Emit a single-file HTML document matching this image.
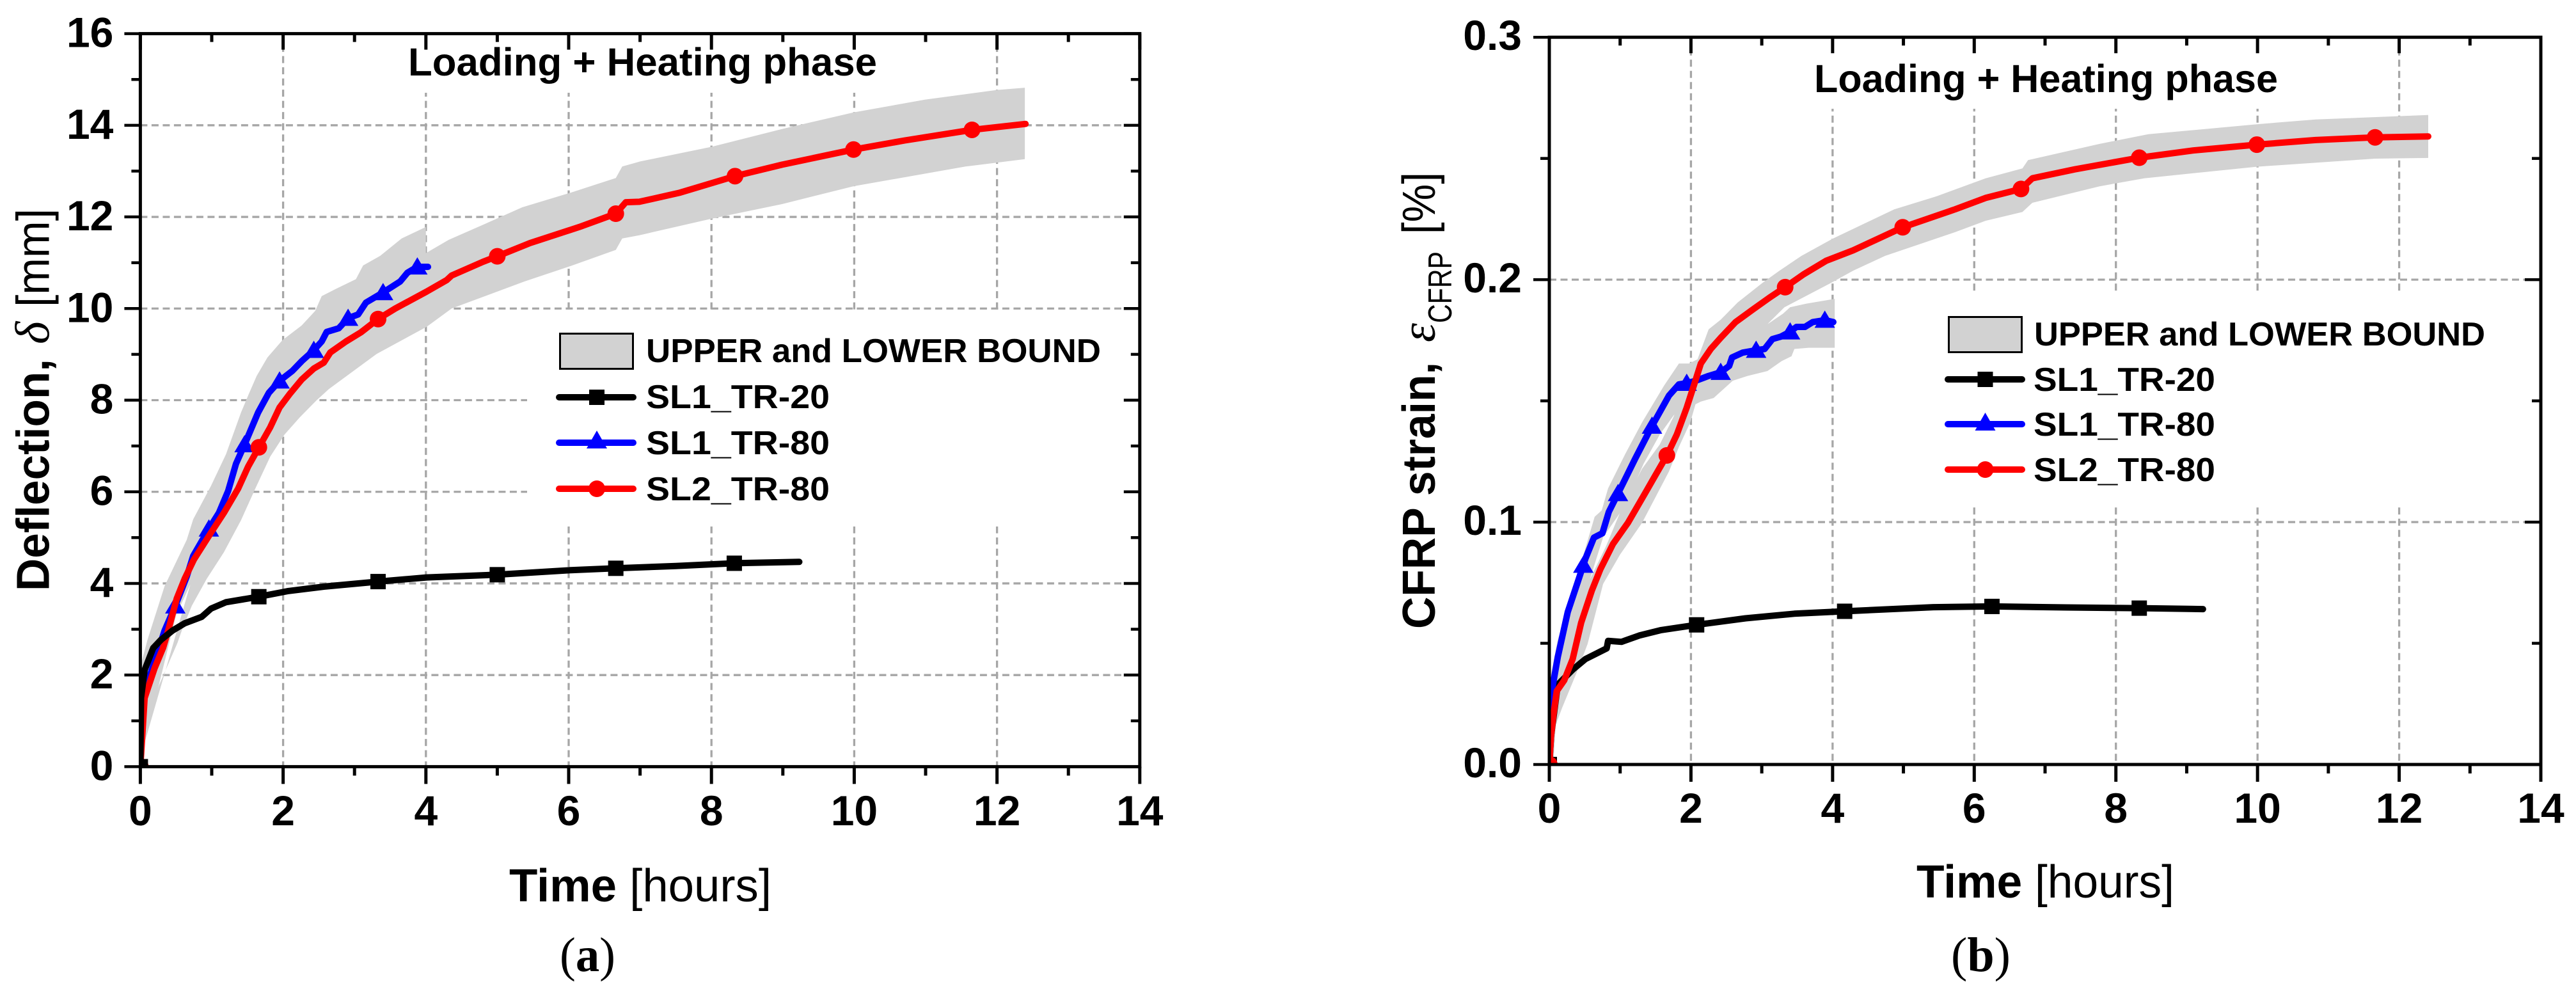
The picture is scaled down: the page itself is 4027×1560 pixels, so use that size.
<!DOCTYPE html>
<html lang="en">
<head>
<meta charset="utf-8">
<title>Deflection and CFRP strain versus time</title>
<style>
html,body{margin:0;padding:0;background:#fff;width:4027px;height:1560px;overflow:hidden}
svg{display:block}
text{font-family:"Liberation Sans",Arial,sans-serif;fill:#000}
.b{font-weight:700}
.serif{font-family:"Liberation Serif","Times New Roman",serif}
</style>
</head>
<body>
<svg id="figure" xmlns="http://www.w3.org/2000/svg" width="4027" height="1560" viewBox="0 0 4027 1560">
  <rect width="4027" height="1560" fill="#fff"/>
  <defs>
    <clipPath id="clip-a"><rect x="219.4" y="52.6" width="1562.4" height="1145.8"/></clipPath>
    <clipPath id="clip-b"><rect x="2422" y="58.2" width="1550" height="1136.8"/></clipPath>
  </defs>
  <g id="panel-a"></g>
  <g id="panel-b"></g>

  <!-- Panel (a) static text -->
  <text class="b" x="638" y="118" font-size="61" textLength="733" lengthAdjust="spacingAndGlyphs">Loading + Heating phase</text>
  <text x="796" y="1409" font-size="72" textLength="410" lengthAdjust="spacingAndGlyphs"><tspan class="b">Time</tspan> [hours]</text>
  <text class="b" transform="translate(76.5,924) rotate(-90)" font-size="72" textLength="363" lengthAdjust="spacingAndGlyphs">Deflection,</text>
  <text class="serif" transform="translate(76.5,538) rotate(-90)" font-size="76" font-style="italic">δ</text>
  <text transform="translate(76.5,480) rotate(-90)" font-size="72" textLength="154" lengthAdjust="spacingAndGlyphs">[mm]</text>
  <text class="serif" x="875" y="1518" font-size="76" textLength="87" lengthAdjust="spacingAndGlyphs">(<tspan font-weight="700">a</tspan>)</text>

  <g>
    <rect x="875.5" y="521.5" width="114" height="55" fill="#d2d2d2" stroke="#000" stroke-width="3"/>
    <text class="b" x="1010" y="566" font-size="52" textLength="711" lengthAdjust="spacingAndGlyphs">UPPER and LOWER BOUND</text>
    <line x1="874" y1="621" x2="990" y2="621" stroke="#000" stroke-width="10" stroke-linecap="round"/>
    <rect x="921" y="609" width="24" height="24" fill="#000"/>
    <text class="b" x="1010" y="638" font-size="52" textLength="287" lengthAdjust="spacingAndGlyphs">SL1_TR-20</text>
    <line x1="874" y1="692" x2="990" y2="692" stroke="#00f" stroke-width="10" stroke-linecap="round"/>
    <polygon points="933,673 949,701 917,701" fill="#00f"/>
    <text class="b" x="1010" y="710" font-size="52" textLength="287" lengthAdjust="spacingAndGlyphs">SL1_TR-80</text>
    <line x1="874" y1="764" x2="990" y2="764" stroke="#f00" stroke-width="10" stroke-linecap="round"/>
    <circle cx="933" cy="764" r="13" fill="#f00"/>
    <text class="b" x="1010" y="782" font-size="52" textLength="287" lengthAdjust="spacingAndGlyphs">SL2_TR-80</text>
  </g>

  <!-- Panel (b) static text -->
  <text class="b" x="2836" y="144" font-size="61" textLength="725" lengthAdjust="spacingAndGlyphs">Loading + Heating phase</text>
  <text x="2996" y="1403" font-size="72" textLength="403" lengthAdjust="spacingAndGlyphs"><tspan class="b">Time</tspan> [hours]</text>
  <text class="b" transform="translate(2243,983) rotate(-90)" font-size="72" textLength="417" lengthAdjust="spacingAndGlyphs">CFRP strain,</text>
  <text class="serif" transform="translate(2243,535) rotate(-90)" font-size="76" font-style="italic">ε</text>
  <text transform="translate(2269,505) rotate(-90)" font-size="52" textLength="112" lengthAdjust="spacingAndGlyphs">CFRP</text>
  <text transform="translate(2243,366) rotate(-90)" font-size="72" textLength="97" lengthAdjust="spacingAndGlyphs">[%]</text>
  <text class="serif" x="3050" y="1518" font-size="76" textLength="93" lengthAdjust="spacingAndGlyphs">(<tspan font-weight="700">b</tspan>)</text>

  <g>
    <rect x="3046.5" y="495.5" width="114" height="55" fill="#d2d2d2" stroke="#000" stroke-width="3"/>
    <text class="b" x="3180" y="540" font-size="52" textLength="705" lengthAdjust="spacingAndGlyphs">UPPER and LOWER BOUND</text>
    <line x1="3045" y1="593" x2="3161" y2="593" stroke="#000" stroke-width="10" stroke-linecap="round"/>
    <rect x="3091.5" y="581" width="24" height="24" fill="#000"/>
    <text class="b" x="3179" y="611" font-size="52" textLength="284" lengthAdjust="spacingAndGlyphs">SL1_TR-20</text>
    <line x1="3045" y1="663" x2="3161" y2="663" stroke="#00f" stroke-width="10" stroke-linecap="round"/>
    <polygon points="3103.5,645 3119.5,673 3087.5,673" fill="#00f"/>
    <text class="b" x="3179" y="681" font-size="52" textLength="284" lengthAdjust="spacingAndGlyphs">SL1_TR-80</text>
    <line x1="3045" y1="734" x2="3161" y2="734" stroke="#f00" stroke-width="10" stroke-linecap="round"/>
    <circle cx="3103.5" cy="734" r="13" fill="#f00"/>
    <text class="b" x="3179" y="752" font-size="52" textLength="284" lengthAdjust="spacingAndGlyphs">SL2_TR-80</text>
  </g>
</svg>

<script>
// ---------- shared axis ticks ----------
var timeMajorTicks = [0, 2, 4, 6, 8, 10, 12, 14];
var timeMinorTicks = [1, 3, 5, 7, 9, 11, 13];
var timeTickLabels = ['0', '2', '4', '6', '8', '10', '12', '14'];

// ---------- panel (a): deflection ----------
var aValueMajorTicks = [0, 2, 4, 6, 8, 10, 12, 14, 16];
var aValueMinorTicks = [1, 3, 5, 7, 9, 11, 13, 15];
var aValueTickLabels = ['0', '2', '4', '6', '8', '10', '12', '14', '16'];
var aValueGrid = [2, 4, 6, 8, 10, 12, 14];

var aBlackTime = [0, 0.01, 0.06, 0.18, 0.29, 0.45, 0.62, 0.86, 0.99, 1.2, 1.66, 2.06, 2.57, 3.33, 4.01, 5, 6.03, 6.66, 7.5, 8.32, 9.23];
var aBlackValue = [0, 1.5, 2.11, 2.59, 2.77, 2.97, 3.13, 3.27, 3.45, 3.59, 3.71, 3.83, 3.93, 4.04, 4.13, 4.19, 4.29, 4.33, 4.38, 4.44, 4.47];
var aBlackMarkers = [0, 1.66, 3.33, 5, 6.66, 8.32];

var aBlueTime = [0, 0.03, 0.2, 0.34, 0.49, 0.65, 0.74, 0.96, 1.1, 1.23, 1.34, 1.46, 1.65, 1.8, 1.95, 2.13, 2.26, 2.43, 2.54, 2.61, 2.78, 2.91, 3.05, 3.16, 3.4, 3.64, 3.74, 3.88, 4.03];
var aBlueValue = [0, 1.5, 2.3, 2.97, 3.51, 4.15, 4.6, 5.19, 5.54, 6.02, 6.61, 7.03, 7.73, 8.16, 8.42, 8.64, 8.85, 9.09, 9.28, 9.49, 9.57, 9.79, 9.87, 10.13, 10.35, 10.59, 10.78, 10.91, 10.91];
var aBlueMarkers = [0.49, 0.96, 1.46, 1.95, 2.43, 2.91, 3.4, 3.88];

var aRedTime = [0, 0.06, 0.2, 0.32, 0.39, 0.51, 0.62, 0.75, 0.99, 1.17, 1.37, 1.51, 1.66, 1.82, 1.95, 2.09, 2.26, 2.43, 2.57, 2.66, 2.88, 3.09, 3.33, 3.57, 4.01, 4.29, 4.36, 4.8, 5, 5.46, 6.15, 6.66, 6.8, 6.99, 7.56, 8.33, 8.99, 9.99, 10.71, 11.65, 12.4];
var aRedValue = [0, 1.5, 2.15, 2.6, 2.97, 3.67, 4.1, 4.52, 5.11, 5.54, 6.07, 6.55, 6.97, 7.41, 7.84, 8.13, 8.45, 8.69, 8.82, 9.04, 9.28, 9.48, 9.77, 10, 10.37, 10.62, 10.72, 11.02, 11.14, 11.43, 11.78, 12.07, 12.32, 12.33, 12.53, 12.89, 13.14, 13.47, 13.67, 13.9, 14.03];
var aRedMarkers = [0, 1.66, 3.33, 5, 6.66, 8.33, 9.99, 11.65];

var aBlueBandUpperTime = [0, 0.1, 0.34, 0.65, 0.74, 0.99, 1.2, 1.41, 1.51, 1.63, 1.78, 1.99, 2.26, 2.45, 2.54, 2.74, 3.02, 3.12, 3.36, 3.66, 4];
var aBlueBandUpperValue = [2.18, 2.77, 3.94, 4.95, 5.4, 6.13, 6.82, 7.73, 8.1, 8.53, 8.93, 9.31, 9.63, 9.95, 10.27, 10.43, 10.64, 10.94, 11.15, 11.53, 11.78];
var aBlueBandLowerTime = [0, 0.5, 1, 1.95, 3, 4];
var aBlueBandLowerValue = [0.15, 3.3, 5, 8, 9.5, 10.3];

var aRedBandUpperTime = [0, 1, 2, 3, 4, 4.32, 4.89, 5.35, 6.03, 6.66, 6.75, 7, 8, 8.99, 9.99, 10.99, 11.99, 12.39];
var aRedBandUpperValue = [0.2, 5.6, 8.3, 9.9, 11.21, 11.5, 11.89, 12.21, 12.53, 12.85, 13.1, 13.21, 13.53, 13.92, 14.28, 14.56, 14.77, 14.82];
var aRedBandLowerTime = [0, 0.09, 0.26, 0.52, 0.58, 0.72, 0.93, 1.17, 1.41, 1.61, 1.82, 2.02, 2.23, 2.47, 2.64, 3.31, 4.01, 4.36, 5.38, 6.03, 6.66, 6.75, 6.99, 8, 8.99, 9.99, 11.56, 12.39];
var aRedBandLowerValue = [0.15, 0.96, 1.77, 2.7, 2.97, 3.51, 4.1, 4.68, 5.38, 6.07, 6.77, 7.25, 7.62, 8, 8.24, 9.01, 9.6, 10, 10.59, 10.93, 11.28, 11.53, 11.6, 11.96, 12.28, 12.67, 13.1, 13.26];

// ---------- panel (b): CFRP strain ----------
var bValueMajorTicks = [0, 0.1, 0.2, 0.3];
var bValueMinorTicks = [0.05, 0.15, 0.25];
var bValueTickLabels = ['0.0', '0.1', '0.2', '0.3'];
var bValueGrid = [0.1, 0.2];

var bBlackTime = [0, 0.024, 0.12, 0.33, 0.51, 0.81, 0.83, 1.02, 1.27, 1.57, 2.08, 2.77, 3.46, 4.17, 5.42, 6.25, 7.3, 8.33, 9.23];
var bBlackValue = [0, 0.0118, 0.033, 0.0391, 0.0435, 0.0479, 0.051, 0.0506, 0.0532, 0.0554, 0.0576, 0.0603, 0.0622, 0.0632, 0.0649, 0.0652, 0.0648, 0.0645, 0.0641];
var bBlackMarkers = [0, 2.08, 4.17, 6.25, 8.33];

var bBlueTime = [0, 0.02, 0.12, 0.26, 0.39, 0.51, 0.63, 0.75, 0.84, 0.97, 1.21, 1.45, 1.69, 1.83, 1.94, 2.07, 2.25, 2.42, 2.54, 2.58, 2.73, 2.92, 3.04, 3.15, 3.27, 3.4, 3.49, 3.61, 3.72, 3.89, 4.01];
var bBlueValue = [0.015, 0.0277, 0.0444, 0.0629, 0.0743, 0.0849, 0.0936, 0.0954, 0.1042, 0.1118, 0.126, 0.1396, 0.1522, 0.1568, 0.1573, 0.1583, 0.1603, 0.1618, 0.1644, 0.1679, 0.1699, 0.1709, 0.1714, 0.1755, 0.1765, 0.1785, 0.1805, 0.1805, 0.1825, 0.1833, 0.1825];
var bBlueMarkers = [0.48, 0.97, 1.45, 1.94, 2.42, 2.92, 3.4, 3.89];

var bRedTime = [0, 0.024, 0.06, 0.105, 0.21, 0.33, 0.45, 0.6, 0.72, 0.9, 1.11, 1.35, 1.49, 1.66, 1.8, 1.94, 2.04, 2.14, 2.28, 2.42, 2.63, 2.87, 3.11, 3.33, 3.59, 3.91, 4.29, 4.99, 5.73, 6.16, 6.66, 6.82, 7.42, 8.33, 9.09, 9.99, 10.82, 11.66, 12.41];
var bRedValue = [0, 0.0118, 0.0206, 0.0303, 0.0347, 0.0435, 0.0585, 0.0717, 0.0805, 0.091, 0.0997, 0.1118, 0.1189, 0.1275, 0.1361, 0.1472, 0.1563, 0.1654, 0.1714, 0.176, 0.1825, 0.1876, 0.1926, 0.1969, 0.2022, 0.2078, 0.2121, 0.2216, 0.229, 0.2337, 0.2374, 0.2418, 0.2455, 0.2503, 0.2533, 0.2557, 0.2576, 0.2587, 0.2591];
var bRedMarkers = [0, 1.66, 3.33, 4.99, 6.66, 8.33, 9.99, 11.66];

var bBlueBandUpperTime = [0, 0.12, 0.35, 0.64, 0.74, 0.83, 1.07, 1.31, 1.62, 1.83, 1.97, 2.11, 2.6, 3, 3.3, 3.4, 3.63, 4.03];
var bBlueBandUpperValue = [0.0338, 0.0515, 0.0735, 0.1022, 0.1048, 0.1139, 0.128, 0.1411, 0.1563, 0.1654, 0.1654, 0.1674, 0.175, 0.18, 0.186, 0.1886, 0.1901, 0.1921];
var bBlueBandLowerTime = [0, 0.12, 0.35, 0.52, 0.76, 1.07, 1.33, 1.56, 1.76, 2.14, 2.32, 2.59, 2.8, 3.08, 3.28, 3.42, 3.46, 3.66, 4.03];
var bBlueBandLowerValue = [0.015, 0.03, 0.0515, 0.0715, 0.0937, 0.1068, 0.124, 0.1361, 0.1442, 0.1497, 0.1512, 0.1583, 0.1603, 0.1623, 0.1664, 0.1684, 0.1714, 0.1719, 0.1719];

var bRedBandUpperTime = [0, 0.09, 0.3, 0.55, 0.8, 1.04, 1.31, 1.56, 1.75, 2.07, 2.25, 2.42, 2.66, 3.01, 3.25, 3.56, 4, 4.87, 5.47, 6.16, 6.68, 6.76, 7.77, 8.46, 9.99, 10.82, 12.41];
var bRedBandUpperValue = [0.0147, 0.0326, 0.05, 0.075, 0.09, 0.1068, 0.122, 0.132, 0.1432, 0.1654, 0.1795, 0.1835, 0.1906, 0.1987, 0.2037, 0.2098, 0.2169, 0.229, 0.2344, 0.2418, 0.2459, 0.2493, 0.256, 0.26, 0.2641, 0.2661, 0.2679];
var bRedBandLowerTime = [0.06, 0.09, 0.18, 0.39, 0.54, 0.76, 1, 1.31, 1.69, 1.83, 1.99, 2.07, 3.11, 3.32, 3.98, 4.29, 4.74, 5.73, 6.16, 6.68, 6.82, 7.77, 8.4, 9.99, 11.66, 12.41];
var bRedBandLowerValue = [0.0013, 0.0163, 0.0233, 0.0382, 0.0497, 0.0745, 0.0866, 0.0997, 0.1209, 0.131, 0.1411, 0.1492, 0.1825, 0.1886, 0.1987, 0.2037, 0.2098, 0.2196, 0.2243, 0.2279, 0.2317, 0.2385, 0.2418, 0.2466, 0.2499, 0.2502];

// ---------- drawing helpers ----------
var SVG_NS = 'http://www.w3.org/2000/svg';

function makeEl(parent, tag, attrs) {
  var el = document.createElementNS(SVG_NS, tag);
  for (var k in attrs) { el.setAttribute(k, attrs[k]); }
  parent.appendChild(el);
  return el;
}

function interpolate(times, values, t) {
  if (t <= times[0]) { return values[0]; }
  for (var i = 1; i < times.length; i++) {
    if (t <= times[i]) {
      var f = (t - times[i - 1]) / (times[i] - times[i - 1]);
      return values[i - 1] + f * (values[i] - values[i - 1]);
    }
  }
  return values[values.length - 1];
}

function seriesPath(times, values, sx, sy) {
  var parts = [];
  for (var i = 0; i < times.length; i++) {
    parts.push((i ? 'L' : 'M') + sx(times[i]).toFixed(1) + ' ' + sy(values[i]).toFixed(1));
  }
  return parts.join('');
}

function bandPath(upT, upV, loT, loV, sx, sy) {
  var parts = [];
  for (var i = 0; i < upT.length; i++) {
    parts.push((i ? 'L' : 'M') + sx(upT[i]).toFixed(1) + ' ' + sy(upV[i]).toFixed(1));
  }
  for (var j = loT.length - 1; j >= 0; j--) {
    parts.push('L' + sx(loT[j]).toFixed(1) + ' ' + sy(loV[j]).toFixed(1));
  }
  return parts.join('') + 'Z';
}

function drawGrid(g, p, sx, sy) {
  var gridStyle = { stroke: '#a6a6a6', 'stroke-width': 3.3, 'stroke-dasharray': '11 6.5', fill: 'none' };
  timeMajorTicks.forEach(function (t) {
    if (t === 0 || t === 14) { return; }
    var attrs = { x1: sx(t), x2: sx(t), y1: p.top, y2: p.bottom };
    for (var k in gridStyle) { attrs[k] = gridStyle[k]; }
    var line = makeEl(g, 'line', attrs);
    
    
  });
  p.grid.forEach(function (v) {
    var attrs = { x1: p.left, x2: p.right, y1: sy(v), y2: sy(v) };
    for (var k in gridStyle) { attrs[k] = gridStyle[k]; }
    var line = makeEl(g, 'line', attrs);
    
    
  });
  // Grid is masked behind the title and the legend, as in the source figure.
  p.masks.forEach(function (m) {
    var mask = makeEl(g, 'rect', { x: m[0], y: m[1], width: m[2], height: m[3], fill: '#fff' });
    
    
  });
}

function drawMarker(g, kind, color, x, y) {
  var el;
  if (kind === 'square') {
    el = makeEl(g, 'rect', { x: x - 12, y: y - 12, width: 24, height: 24, fill: color });
    
  } else if (kind === 'triangle') {
    el = makeEl(g, 'polygon', {
      points: x + ',' + (y - 15) + ' ' + (x + 16) + ',' + (y + 12) + ' ' + (x - 16) + ',' + (y + 12),
      fill: color
    });
    
  } else {
    el = makeEl(g, 'circle', { cx: x, cy: y, r: 13, fill: color });
    
  }
  
}

function drawSeries(g, s, sx, sy) {
  var group = makeEl(g, 'g', {});
  
  
  var path = makeEl(group, 'path', {
    d: seriesPath(s.t, s.v, sx, sy), fill: 'none', stroke: s.color,
    'stroke-width': 10, 'stroke-linecap': 'round', 'stroke-linejoin': 'round'
  });
  
  
  s.markers.forEach(function (t) {
    drawMarker(group, s.kind, s.color, sx(t), sy(interpolate(s.t, s.v, t)));
  });
}

function drawAxes(g, p, sx, sy) {
  var frame = makeEl(g, 'rect', {
    x: p.left, y: p.top, width: p.right - p.left, height: p.bottom - p.top,
    fill: 'none', stroke: '#000', 'stroke-width': 5
  });
  
  
  var tick = function (x1, y1, x2, y2, w) {
    var line = makeEl(g, 'line', { x1: x1, y1: y1, x2: x2, y2: y2, stroke: '#000', 'stroke-width': w });
    
    
  };
  timeMajorTicks.forEach(function (t, i) {
    tick(sx(t), p.bottom, sx(t), p.bottom + 27, 5);
    tick(sx(t), p.top, sx(t), p.top + 25, 5);
    var label = makeEl(g, 'text', { x: sx(t), y: p.xLabelY, 'font-size': 66, 'font-weight': 700, 'text-anchor': 'middle' });
    label.textContent = timeTickLabels[i];
    
    
  });
  timeMinorTicks.forEach(function (t) {
    tick(sx(t), p.bottom, sx(t), p.bottom + 14, 5);
    tick(sx(t), p.top, sx(t), p.top + 13, 5);
  });
  p.major.forEach(function (v, i) {
    tick(p.left - 25, sy(v), p.left, sy(v), 4.5);
    tick(p.right - 25, sy(v), p.right, sy(v), 4.5);
    var label = makeEl(g, 'text', { x: p.left - p.labelGap, y: sy(v) + p.labelDy, 'font-size': 66, 'font-weight': 700, 'text-anchor': 'end' });
    label.textContent = p.labels[i];
    
    
  });
  p.minor.forEach(function (v) {
    tick(p.left - 14, sy(v), p.left, sy(v), 4.5);
    tick(p.right - 14, sy(v), p.right, sy(v), 4.5);
  });
}

function drawPanel(p) {
  var g = document.getElementById(p.id);
  var sx = function (t) { return p.left + (t / 14) * (p.right - p.left); };
  var sy = function (v) { return p.bottom - (v / p.maxValue) * (p.bottom - p.top); };
  drawGrid(g, p, sx, sy);
  var plot = makeEl(g, 'g', { 'clip-path': 'url(#' + p.clip + ')' });
  
  
  p.bands.forEach(function (b) {
    var band = makeEl(plot, 'path', { d: bandPath(b[0], b[1], b[2], b[3], sx, sy), fill: '#d2d2d2', stroke: 'none' });
    
    
  });
  p.series.forEach(function (s) { drawSeries(plot, s, sx, sy); });
  drawAxes(g, p, sx, sy);
}

drawPanel({
  id: 'panel-a', clip: 'clip-a',
  left: 219.4, right: 1781.8, top: 52.6, bottom: 1198.4, maxValue: 16,
  major: aValueMajorTicks, minor: aValueMinorTicks, labels: aValueTickLabels, grid: aValueGrid,
  xLabelY: 1290, labelGap: 42, labelDy: 21,
  masks: [[625, 55, 760, 90], [824, 484, 955, 339]],
  bands: [
    [aBlueBandUpperTime, aBlueBandUpperValue, aBlueBandLowerTime, aBlueBandLowerValue],
    [aRedBandUpperTime, aRedBandUpperValue, aRedBandLowerTime, aRedBandLowerValue]
  ],
  series: [
    { name: 'sl1-tr80-series', t: aBlueTime, v: aBlueValue, markers: aBlueMarkers, color: '#00f', kind: 'triangle' },
    { name: 'sl2-tr80-series', t: aRedTime, v: aRedValue, markers: aRedMarkers, color: '#f00', kind: 'circle' },
    { name: 'sl1-tr20-series', t: aBlackTime, v: aBlackValue, markers: aBlackMarkers, color: '#000', kind: 'square' }
  ]
});

drawPanel({
  id: 'panel-b', clip: 'clip-b',
  left: 2422, right: 3972, top: 58.2, bottom: 1195, maxValue: 0.3,
  major: bValueMajorTicks, minor: bValueMinorTicks, labels: bValueTickLabels, grid: bValueGrid,
  xLabelY: 1286, labelGap: 43, labelDy: 20,
  masks: [[2825, 60, 745, 110], [2990, 459, 978, 330]],
  bands: [
    [bBlueBandUpperTime, bBlueBandUpperValue, bBlueBandLowerTime, bBlueBandLowerValue],
    [bRedBandUpperTime, bRedBandUpperValue, bRedBandLowerTime, bRedBandLowerValue]
  ],
  series: [
    { name: 'sl1-tr20-series', t: bBlackTime, v: bBlackValue, markers: bBlackMarkers, color: '#000', kind: 'square' },
    { name: 'sl1-tr80-series', t: bBlueTime, v: bBlueValue, markers: bBlueMarkers, color: '#00f', kind: 'triangle' },
    { name: 'sl2-tr80-series', t: bRedTime, v: bRedValue, markers: bRedMarkers, color: '#f00', kind: 'circle' }
  ]
});
</script>
</body>
</html>
